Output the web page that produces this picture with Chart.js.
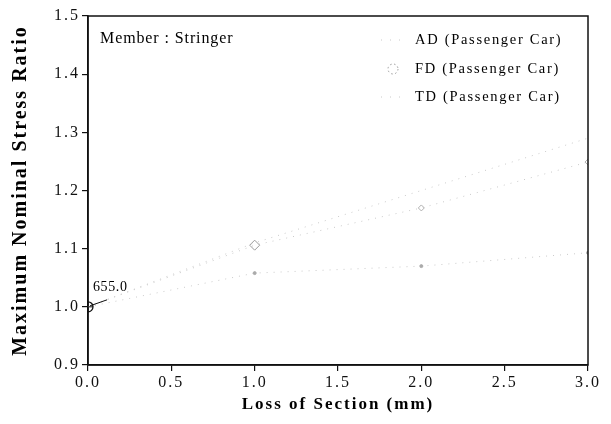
<!DOCTYPE html>
<html>
<head>
<meta charset="utf-8">
<script src="https://cdn.jsdelivr.net/npm/chart.js@4.4.1/dist/chart.umd.min.js"></script>
<style>
  html, body { margin: 0; padding: 0; background: #fff; }
  #wrap { width: 611px; height: 424px; }
</style>
</head>
<body>
<div id="wrap"><canvas id="c" width="611" height="424"></canvas></div>
<script>
// Loss of section (mm) and the stress ratio for each load case
const lossOfSection = [0, 1, 2, 3];
const adRatio = [1.0, 1.11, 1.2, 1.29];
const fdRatio = [1.0, 1.106, 1.17, 1.249];
const tdRatio = [1.0, 1.058, 1.07, 1.093];
const seriesNames = ['AD (Passenger Car)', 'FD (Passenger Car)', 'TD (Passenger Car)'];
const xTicks = [0, 0.5, 1, 1.5, 2, 2.5, 3];
const yTicks = [0.9, 1.0, 1.1, 1.2, 1.3, 1.4, 1.5];
const baseStress = '655.0';
const memberLabel = 'Member : Stringer';

const SERIF = '"Liberation Serif", "DejaVu Serif", serif';

function pts(values) {
  return lossOfSection.map((x, i) => ({ x: x, y: values[i] }));
}

const lineColor = '#cacaca';

const datasets = [
  {
    label: seriesNames[0],
    data: pts(adRatio),
    borderColor: lineColor,
    borderWidth: 1,
    borderDash: [1, 6],
    pointStyle: 'circle',
    pointRadius: [5, 0, 0, 0],
    pointBorderColor: '#111',
    pointBorderWidth: 1.3,
    pointBackgroundColor: 'rgba(0,0,0,0)'
  },
  {
    label: seriesNames[1],
    data: pts(fdRatio),
    borderColor: lineColor,
    borderWidth: 1,
    borderDash: [1, 6],
    pointStyle: ['cross', 'rectRot', 'rectRot', 'rectRot'],
    pointRadius: [5, 5, 3, 3],
    pointBorderColor: ['#111', '#9a9a9a', '#b0b0b0', '#b0b0b0'],
    pointBorderWidth: 1,
    pointBackgroundColor: 'rgba(0,0,0,0)'
  },
  {
    label: seriesNames[2],
    data: pts(tdRatio),
    borderColor: lineColor,
    borderWidth: 1,
    borderDash: [1, 6],
    pointStyle: 'circle',
    pointRadius: [0, 1.5, 1.5, 1.5],
    pointBorderColor: '#aaa',
    pointBorderWidth: 1,
    pointBackgroundColor: '#aaa'
  }
];

// letter spacing for the serif labels drawn by the library
const spacingPlugin = {
  id: 'spacing',
  beforeUpdate(chart) { chart.ctx.letterSpacing = '2px'; },
  beforeLayout(chart) { chart.ctx.letterSpacing = '2px'; },
  beforeDraw(chart) { chart.ctx.letterSpacing = '2px'; }
};

// frame, inner legend, member label and base stress note
const decorPlugin = {
  id: 'decor',
  afterDraw(chart) {
    const { ctx, chartArea: a, scales } = chart;
    ctx.save();
    ctx.letterSpacing = '0px';
    ctx.strokeStyle = '#111';
    ctx.lineWidth = 1.5;
    ctx.setLineDash([]);
    ctx.strokeRect(a.left, a.top, a.right - a.left, a.bottom - a.top);

    // member label
    ctx.fillStyle = '#000';
    ctx.font = '16px ' + SERIF;
    ctx.letterSpacing = '0.9px';
    ctx.textBaseline = 'middle';
    ctx.textAlign = 'left';
    ctx.fillText(memberLabel, 100, 39);

    // legend
    const rows = [40, 69, 97];
    chart.data.datasets.forEach((ds, i) => {
      const y = rows[i];
      ctx.save();
      ctx.letterSpacing = '0px';
      ctx.strokeStyle = ds.borderColor;
      ctx.lineWidth = 1;
      if (i === 1) {
        ctx.setLineDash([1.5, 2.5]);
        ctx.strokeStyle = '#999';
        ctx.beginPath();
        ctx.arc(393, y, 5, 0, Math.PI * 2);
        ctx.stroke();
      } else {
        ctx.setLineDash([1, 8]);
        ctx.beginPath();
        ctx.moveTo(381, y);
        ctx.lineTo(406, y);
        ctx.stroke();
      }
      ctx.restore();
      ctx.fillStyle = '#000';
      ctx.font = '14.5px ' + SERIF;
      ctx.letterSpacing = '1.7px';
      ctx.fillText(ds.label, 415, y);
    });

    // base stress note at the origin point
    const px = scales.x.getPixelForValue(lossOfSection[0]);
    const py = scales.y.getPixelForValue(adRatio[0]);
    ctx.strokeStyle = '#111';
    ctx.lineWidth = 1;
    ctx.setLineDash([]);
    ctx.beginPath();
    ctx.moveTo(px + 2, py - 1);
    ctx.lineTo(px + 19, py - 7);
    ctx.stroke();
    ctx.font = '14px ' + SERIF;
    ctx.letterSpacing = '0.6px';
    ctx.textBaseline = 'alphabetic';
    ctx.fillText(baseStress, px + 5, py - 16);
    ctx.restore();
  }
};

new Chart(document.getElementById('c'), {
  type: 'line',
  data: { datasets: datasets },
  options: {
    responsive: false,
    animation: false,
    events: [],
    layout: { padding: { left: 0, top: 16, right: 23, bottom: 0 } },
    plugins: { legend: { display: false }, tooltip: { enabled: false } },
    scales: {
      x: {
        type: 'linear',
        min: 0,
        max: 3,
        afterBuildTicks(s) { s.ticks = xTicks.map(v => ({ value: v })); },
        afterFit(s) { s.height = 59; },
        grid: { display: true, drawOnChartArea: false, drawTicks: true, tickLength: 6, color: '#111', lineWidth: 1.2 },
        border: { display: true, color: '#111', width: 1.5 },
        ticks: {
          color: '#111',
          padding: 2,
          maxRotation: 0,
          font: { family: SERIF, size: 16 },
          callback: v => Number(v).toFixed(1)
        },
        title: {
          display: true,
          text: 'Loss of Section (mm)',
          color: '#000',
          font: { family: SERIF, size: 17, weight: 'bold' },
          padding: { top: 0, bottom: 9 }
        }
      },
      y: {
        type: 'linear',
        min: 0.9,
        max: 1.5,
        afterBuildTicks(s) { s.ticks = yTicks.map(v => ({ value: v })); },
        afterFit(s) { s.width = 88; },
        grid: { display: true, drawOnChartArea: false, drawTicks: true, tickLength: 6, color: '#111', lineWidth: 1.2 },
        border: { display: true, color: '#111', width: 1.5 },
        ticks: {
          color: '#111',
          padding: 2,
          font: { family: SERIF, size: 16 },
          callback: v => Number(v).toFixed(1)
        },
        title: {
          display: true,
          text: 'Maximum Nominal Stress Ratio',
          color: '#000',
          font: { family: SERIF, size: 20, weight: 'bold' },
          padding: { top: 9, bottom: 0 }
        }
      }
    }
  },
  plugins: [spacingPlugin, decorPlugin]
});
</script>
</body>
</html>
